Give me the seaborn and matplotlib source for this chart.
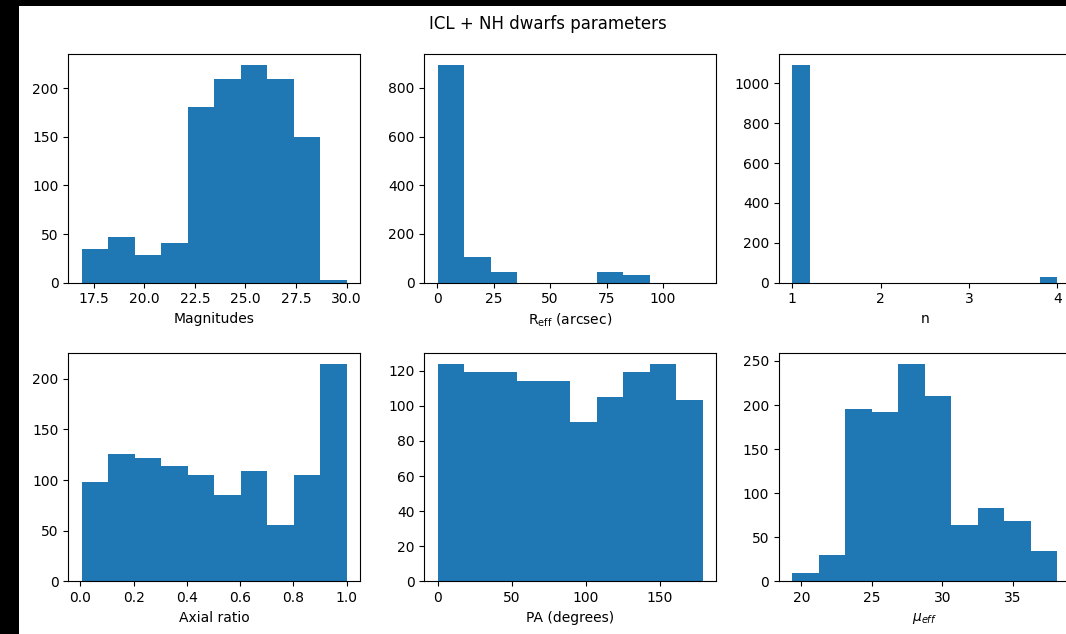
import numpy as np
import pandas as pd
import matplotlib
matplotlib.use("Agg")
import matplotlib.pyplot as plt
from matplotlib.patches import Rectangle
import seaborn as sns

# ---- data (bin counts) ----
mag_range = (16.9, 30.0)
mag_counts = [35, 47, 29, 41, 181, 210, 224, 210, 150, 3]

reff_range = (0.1, 117.5)
reff_counts = [894, 107, 45, 0, 0, 0, 45, 32, 0, 0]

n_range = (1.0, 4.0)
n_counts = [1092, 0, 0, 0, 0, 0, 0, 0, 0, 0, 0, 0, 0, 0, 30]

axr_range = (0.004, 1.0)
axr_counts = [98, 126, 122, 114, 105, 85, 109, 56, 105, 215]

pa_range = (0.0, 179.0)
pa_counts = [124, 119, 119, 114, 114, 91, 105, 119, 124, 103]

mu_range = (19.35, 38.15)
mu_counts = [9, 30, 195, 192, 247, 210, 64, 83, 69, 34]

xlabels = ["Magnitudes", r"R$_{\rm eff}$ (arcsec)", "n",
           "Axial ratio", "PA (degrees)", r"$\mu_{eff}$"]
title = "ICL + NH dwarfs parameters"

panels = [
    (mag_range, mag_counts),
    (reff_range, reff_counts),
    (n_range, n_counts),
    (axr_range, axr_counts),
    (pa_range, pa_counts),
    (mu_range, mu_counts),
]

W, H = 1066, 634
fig = plt.figure(figsize=(W / 100, H / 100), dpi=100)
fig.patch.set_facecolor("black")
fig.add_artist(Rectangle((19 / W, 0), 1, 1 - 6 / H, transform=fig.transFigure,
                         facecolor="white", edgecolor="none", zorder=-10))

col_left = [68.3, 424.3, 779.0]
row_top = [54.0, 352.7]
aw, ah = 291.5, 228.7

for i, ((lo, hi), counts) in enumerate(panels):
    r, c = divmod(i, 3)
    ax = fig.add_axes([col_left[c] / W, 1 - (row_top[r] + ah) / H, aw / W, ah / H])
    nb = len(counts)
    edges = np.linspace(lo, hi, nb + 1)
    centers = (edges[:-1] + edges[1:]) / 2
    df = pd.DataFrame({"value": centers, "count": np.asarray(counts, dtype=float)})
    sns.histplot(data=df, x="value", weights="count", bins=nb, binrange=(lo, hi),
                 ax=ax, color="#1f77b4", alpha=1.0, linewidth=0, edgecolor="none")
    ax.set_xlim(lo - 0.05 * (hi - lo), hi + 0.05 * (hi - lo))
    ax.set_ylim(0, max(counts) * 1.05)
    ax.set_ylabel("")
    ax.set_xlabel(xlabels[i])

fig.text(548 / W, 1 - 24 / H, title, ha="center", va="center", fontsize=12)

fig.savefig("out.png", dpi=100, facecolor=fig.get_facecolor())
